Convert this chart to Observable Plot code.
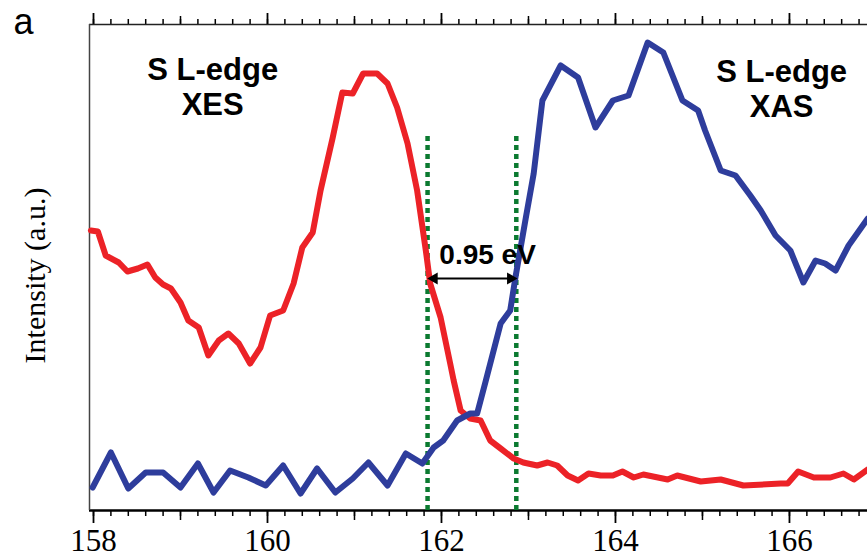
<!DOCTYPE html>
<html>
<head>
<meta charset="utf-8">
<script src="https://cdn.jsdelivr.net/npm/d3@7"></script>
<script src="https://cdn.jsdelivr.net/npm/@observablehq/plot@0.6"></script>
<style>
  html, body { margin: 0; padding: 0; background: #fff; }
</style>
</head>
<body>
<div id="chart"></div>
<script>
// S L-edge XES (red)
const xesEnergy = [157.97,158.05,158.14,158.29,158.39,158.51,158.62,158.71,158.80,158.89,159.00,159.09,159.21,159.32,159.44,159.55,159.67,159.80,159.92,160.03,160.18,160.30,160.40,160.52,160.61,160.75,160.86,160.98,161.10,161.26,161.38,161.49,161.61,161.72,161.82,161.87,161.99,162.10,162.14,162.22,162.33,162.45,162.56,162.68,162.83,162.94,163.10,163.22,163.33,163.45,163.57,163.69,163.83,163.97,164.08,164.21,164.32,164.60,164.71,164.98,165.21,165.47,165.90,165.98,166.10,166.28,166.47,166.62,166.74,166.90];
const xesIntensity = [280,279,255,248,239,242,246,233,226,222,208,190,183,155,170,177,167,147,163,195,200,227,263,278,320,373,418,417,437,437,427,403,367,320,260,227,193,147,130,100,92,90,70,62,52,48,45,48,45,35,30,37,35,35,39,33,36,31,35,29,31,25,27,27,39,33,33,37,31,41];

// S L-edge XAS (blue)
const xasEnergy = [157.99,158.20,158.40,158.60,158.80,159.00,159.20,159.38,159.57,159.78,159.98,160.18,160.38,160.57,160.78,160.98,161.16,161.38,161.59,161.78,161.91,162.02,162.18,162.33,162.41,162.51,162.68,162.79,162.85,162.97,163.06,163.16,163.37,163.57,163.77,163.97,164.15,164.37,164.55,164.77,164.95,165.03,165.21,165.38,165.55,165.67,165.84,166.01,166.16,166.30,166.41,166.53,166.68,166.90];
const xasIntensity = [23,58,22,38,38,23,47,18,40,33,25,45,17,42,18,32,48,25,57,47,63,70,90,97,97,130,187,200,233,293,337,410,445,433,383,410,415,468,458,410,400,380,340,335,315,300,275,260,228,250,247,240,265,292];

// Edge markers and gap annotation
const edgeEnergies = [161.84, 162.86];
const edgeTop = 375;
const gapLabel = "0.95 eV";
const gapArrow = {x1: 161.87, x2: 162.84, y: 232};

// Ticks
const majorTicks = [158, 160, 162, 164, 166];
const mediumTicks = [159, 161, 163, 165];
const minorTicks = d3.range(0, 45).map(i => +(158 + i * 0.2).toFixed(1)).filter(v => v <= 166.89);

const xDomain = [157.954, 166.897];
const yDomain = [0, 486];

const xes = xesEnergy.map((e, i) => ({e, v: xesIntensity[i]}));
const xas = xasEnergy.map((e, i) => ({e, v: xasIntensity[i]}));
const edges = edgeEnergies.map(e => ({e, y1: 0, y2: edgeTop}));

const blank = () => "";
const sans = "Liberation Sans, Arial, Helvetica, sans-serif";
const serif = "Liberation Serif, Times New Roman, serif";

const chart = Plot.plot({
  width: 867,
  height: 559,
  marginLeft: 89,
  marginRight: 0,
  marginTop: 24,
  marginBottom: 49,
  style: {background: "#fff", color: "#000", overflow: "visible"},
  x: {domain: xDomain},
  y: {domain: yDomain, axis: null},
  marks: [
    // ticks bottom
    Plot.axisX({anchor: "bottom", ticks: minorTicks, tickSize: 6, tickFormat: blank, label: null, strokeWidth: 1.5}),
    Plot.axisX({anchor: "bottom", ticks: mediumTicks, tickSize: 10, tickFormat: blank, label: null, strokeWidth: 1.5}),
    Plot.axisX({anchor: "bottom", ticks: majorTicks, tickSize: 13, tickPadding: 5, label: null, strokeWidth: 1.8,
      tickFormat: d => String(d), fontSize: 31, fontFamily: serif}),
    // ticks top
    Plot.axisX({anchor: "top", ticks: minorTicks, tickSize: 6, tickFormat: blank, label: null, strokeWidth: 1.5}),
    Plot.axisX({anchor: "top", ticks: mediumTicks, tickSize: 9, tickFormat: blank, label: null, strokeWidth: 1.5}),
    Plot.axisX({anchor: "top", ticks: majorTicks, tickSize: 12, tickFormat: blank, label: null, strokeWidth: 1.8}),
    // frame lines
    Plot.ruleY([yDomain[0]], {stroke: "#000", strokeWidth: 2.5}),
    Plot.ruleY([yDomain[1]], {stroke: "#222", strokeWidth: 1.5}),
    Plot.ruleX([xDomain[0]], {stroke: "#444", strokeWidth: 1.5}),
    // edge markers
    Plot.ruleX(edges, {x: "e", y1: "y1", y2: "y2", stroke: "#0b7a30", strokeWidth: 4.5, strokeDasharray: "5,4"}),
    // curves
    Plot.line(xes, {x: "e", y: "v", stroke: "#ec2227", strokeWidth: 6, strokeLinejoin: "round"}),
    Plot.line(xas, {x: "e", y: "v", stroke: "#2e3d9c", strokeWidth: 6, strokeLinejoin: "round"}),
    // gap arrow
    Plot.link([gapArrow], {x1: "x1", x2: "x2", y1: "y", y2: "y", stroke: "#000", strokeWidth: 2}),
    Plot.dot([gapArrow], {x: "x1", y: "y", symbol: "triangle", rotate: -90, r: 4.5, fill: "#000", dx: 4}),
    Plot.dot([gapArrow], {x: "x2", y: "y", symbol: "triangle", rotate: 90, r: 4.5, fill: "#000", dx: -4}),
    Plot.text([gapLabel], {x: 162.53, y: 255, text: d => d, fontSize: 28, fontWeight: "bold", fontFamily: sans, fill: "#000"}),
    // titles
    Plot.text(["S L-edge\nXES"], {x: 159.37, y: 424, text: d => d, fontSize: 31, fontWeight: "bold", fontFamily: sans, lineHeight: 1.12, fill: "#000"}),
    Plot.text(["S L-edge\nXAS"], {x: 165.91, y: 422, text: d => d, fontSize: 31, fontWeight: "bold", fontFamily: sans, lineHeight: 1.12, fill: "#000"}),
    // y label
    Plot.text(["Intensity (a.u.)"], {frameAnchor: "left", textAnchor: "middle", dx: -54, dy: 8, rotate: -90, text: d => d, fontSize: 30, fontFamily: serif, fill: "#000"}),
    // panel letter
    Plot.text(["a"], {frameAnchor: "top-left", textAnchor: "middle", dx: -66, dy: 9, lineAnchor: "bottom", text: d => d, fontSize: 36, fontFamily: sans, fill: "#000"})
  ]
});
document.getElementById("chart").appendChild(chart);
</script>
</body>
</html>
